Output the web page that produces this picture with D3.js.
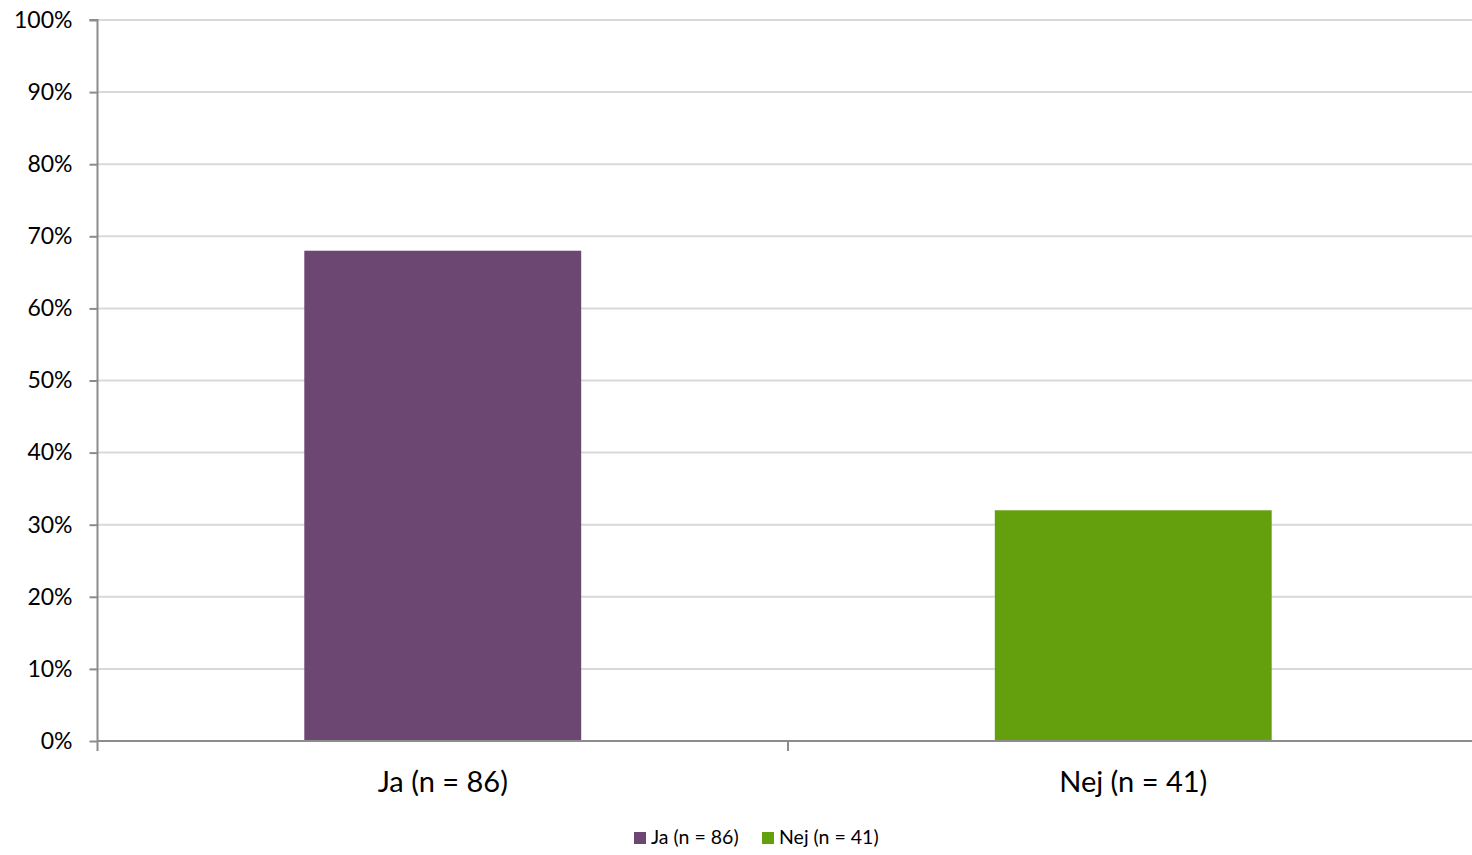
<!DOCTYPE html>
<html><head><meta charset="utf-8">
<script src="https://cdn.jsdelivr.net/npm/d3@7"></script>
<style>body{margin:0;background:#fff}svg{display:block}text{font-family:Lato,"Open Sans",sans-serif;fill:#000}</style>
</head><body>
<script>
const categories = ["Ja (n = 86)", "Nej (n = 41)"];
const values = [68, 32];
const colors = ["#6c4772", "#649f0d"];
const yTicks = [0,10,20,30,40,50,60,70,80,90,100];

const W = 1472, H = 855;
const m = {left: 97.5, right: -6.5, top: 20, bottom: 114};
const svg = d3.select("body").append("svg").attr("width", W).attr("height", H);

const x = d3.scaleBand().domain(categories).range([m.left, W - m.right]).paddingInner(0).paddingOuter(0);
const y = d3.scaleLinear().domain([0, 100]).range([H - m.bottom, m.top]);

// gridlines
svg.append("g").selectAll("line").data(yTicks.filter(d => d > 0)).join("line")
  .attr("x1", m.left).attr("x2", W).attr("y1", d => y(d)).attr("y2", d => y(d))
  .attr("stroke", "#d9d9d9").attr("stroke-width", 2);

// bars
const bw = x.bandwidth() * 0.401;
svg.append("g").selectAll("rect").data(values).join("rect")
  .attr("x", (d, i) => x(categories[i]) + (x.bandwidth() - bw) / 2)
  .attr("width", bw)
  .attr("y", d => y(d)).attr("height", d => y(0) - y(d))
  .attr("fill", (d, i) => colors[i]);

// y axis
const ya = svg.append("g").attr("transform", `translate(${m.left},0)`)
  .call(d3.axisLeft(y).tickValues(yTicks).tickFormat(d => d + "%").tickSize(8).tickPadding(17));
ya.select(".domain").attr("stroke", "#8c8c8c").attr("stroke-width", 2).attr("d", `M-8,${y(100)}H0V${y(0)+10}`);
ya.selectAll(".tick line").attr("stroke", "#8c8c8c").attr("stroke-width", 2);
ya.selectAll(".tick text").attr("font-size", 23).attr("font-family", "Lato").attr("fill", "#000");

// x axis
const xa = svg.append("g").attr("transform", `translate(0,${y(0)})`)
  .call(d3.axisBottom(x).tickSize(0).tickPadding(30));
xa.select(".domain").attr("stroke", "#8c8c8c").attr("stroke-width", 2).attr("d", `M${m.left},0H${W}`);
xa.selectAll(".tick text").attr("font-size", 29).attr("font-family", "Lato").attr("fill", "#000");
// category separators ticks
svg.append("g").selectAll("line").data(categories.slice(1)).join("line")
  .attr("x1", d => x(d)).attr("x2", d => x(d)).attr("y1", y(0)).attr("y2", y(0) + 10)
  .attr("stroke", "#8c8c8c").attr("stroke-width", 2);

// legend
const leg = svg.append("g");
const lx = [634, 762];
categories.forEach((c, i) => {
  leg.append("rect").attr("x", lx[i]).attr("y", 832).attr("width", 12).attr("height", 12).attr("fill", colors[i]);
  leg.append("text").attr("x", lx[i] + 17).attr("y", 844).attr("font-size", 19.5).text(c);
});
</script>
</body></html>
